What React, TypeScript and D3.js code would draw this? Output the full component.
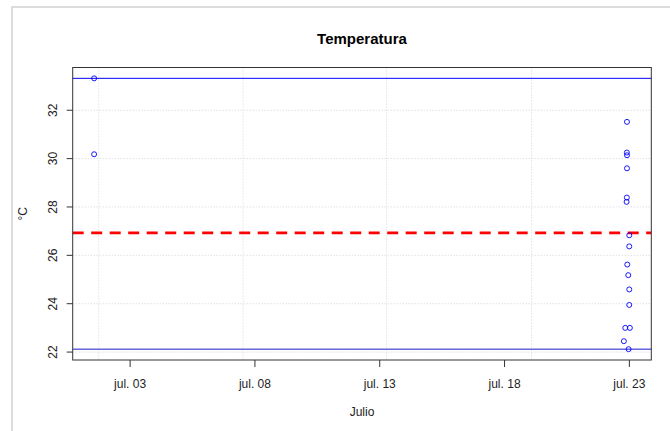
import React from "react";
import * as d3 from "d3";

// Observation times (local) and temperatures (°C)
const times: string[] = [
  "2023-07-01 13:24", "2023-07-01 13:24",
  "2023-07-22 21:42", "2023-07-22 21:35", "2023-07-22 21:42", "2023-07-22 21:42",
  "2023-07-22 21:35", "2023-07-22 21:20", "2023-07-22 23:54", "2023-07-22 23:54",
  "2023-07-22 21:59", "2023-07-22 22:57", "2023-07-22 23:54", "2023-07-22 23:54",
  "2023-07-22 20:04", "2023-07-23 00:29", "2023-07-22 18:43", "2023-07-22 23:14",
];
const temps: number[] = [
  33.32, 30.18,
  31.52, 30.25, 30.14, 29.6,
  28.39, 28.21, 26.83, 26.37,
  25.62, 25.18, 24.59, 23.95,
  23.0, 23.0, 22.45, 22.12,
];
const xTickDates: string[] = ["2023-07-03 00:00", "2023-07-08 00:00", "2023-07-13 00:00", "2023-07-18 00:00", "2023-07-23 00:00"];
const xGridDates: string[] = ["2023-07-01 17:50", "2023-07-07 12:36", "2023-07-13 06:37", "2023-07-19 02:00"];
const yTicks: number[] = [22, 24, 26, 28, 30, 32];

const title = "Temperatura";
const xLabel = "Julio";
const yLabel = "°C";

const W = 670, H = 431;
const left = 72.7, right = 651.3, top = 67.5, bottom = 360;
const font = "'Liberation Sans', Arial, sans-serif";

export default function App() {
  const parse = d3.timeParse("%Y-%m-%d %H:%M");
  const dates = times.map((t) => parse(t) as Date);
  const [x0, x1] = d3.extent(dates) as [Date, Date];
  const dx = (+x1 - +x0) * 0.04;
  const x = d3.scaleTime().domain([new Date(+x0 - dx), new Date(+x1 + dx)]).range([left, right]);
  const [y0, y1] = d3.extent(temps) as [number, number];
  const dy = (y1 - y0) * 0.04;
  const y = d3.scaleLinear().domain([y0 - dy, y1 + dy]).range([bottom, top]);
  const mean = d3.mean(temps) as number;
  const fmt = d3.timeFormat("jul. %d");
  const xt = xTickDates.map((t) => parse(t) as Date);
  const xg = xGridDates.map((t) => parse(t) as Date);

  return (
    <svg width={W} height={H} style={{ position: "absolute", left: 0, top: 0, background: "#fff" }} fontFamily={font}>
      <rect x={0} y={0} width={W} height={H} fill="#fff" />
      {/* page frame */}
      <line x1={12} y1={7} x2={W} y2={7} stroke="#dcdcdc" strokeWidth={2} />
      <line x1={12} y1={6} x2={12} y2={H} stroke="#dcdcdc" strokeWidth={2} />

      {/* grid */}
      {yTicks.map((v) => (
        <line key={"gy" + v} x1={left} x2={right} y1={y(v)} y2={y(v)} stroke="#d3d3d3" strokeDasharray="1 2" />
      ))}
      {xg.map((d, i) => (
        <line key={"gx" + i} x1={x(d)} x2={x(d)} y1={top} y2={bottom} stroke="#d3d3d3" strokeDasharray="1 2" />
      ))}

      {/* reference lines */}
      <line x1={left} x2={right} y1={y(y1)} y2={y(y1)} stroke="#0000ff" strokeWidth={1} />
      <line x1={left} x2={right} y1={y(y0)} y2={y(y0)} stroke="#1a1ad0" strokeWidth={1} />
      <line x1={left} x2={right} y1={y(mean)} y2={y(mean)} stroke="#ff0000" strokeWidth={2.6} strokeDasharray="11 7.5" />

      {/* points */}
      {dates.map((d, i) => (
        <circle key={"p" + i} cx={x(d)} cy={y(temps[i])} r={2.5} fill="none" stroke="#0000ff" strokeWidth={0.9} />
      ))}

      {/* box */}
      <rect x={left} y={top} width={right - left} height={bottom - top} fill="none" stroke="#333" strokeWidth={1} />

      {/* y axis */}
      {yTicks.map((v) => (
        <g key={"ty" + v}>
          <line x1={left - 6} x2={left} y1={y(v)} y2={y(v)} stroke="#333" />
          <text transform={`translate(57,${y(v)}) rotate(-90)`} textAnchor="middle" fontSize={12} fill="#222">{v}</text>
        </g>
      ))}
      {/* x axis */}
      {xt.map((d, i) => (
        <g key={"tx" + i}>
          <line x1={x(d)} x2={x(d)} y1={bottom} y2={bottom + 7} stroke="#333" />
          <text x={x(d)} y={388} textAnchor="middle" fontSize={12} fill="#222">{fmt(d)}</text>
        </g>
      ))}

      <text x={(left + right) / 2} y={43.5} textAnchor="middle" fontSize={15} fontWeight="bold" fill="#000">{title}</text>
      <text x={(left + right) / 2} y={416} textAnchor="middle" fontSize={12} fill="#222">{xLabel}</text>
      <text transform={`translate(27,${(top + bottom) / 2}) rotate(-90)`} textAnchor="middle" fontSize={12} fill="#222">{yLabel}</text>
    </svg>
  );
}
